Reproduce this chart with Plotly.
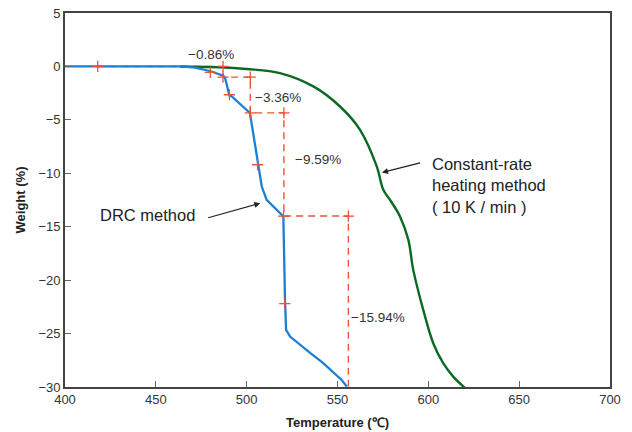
import plotly.graph_objects as go

# DRC method curve (temperature °C, weight %)
drc_T = [400, 463.3, 471.6, 480.2, 487.1, 488.1, 490.4, 491.8, 501.8, 506.1, 508.3, 511.0,
         515.6, 520.2, 521.1, 521.7, 523.9, 529.4, 534.9, 542.0, 547.5, 552.3, 555.1]
drc_W = [0, 0, -0.12, -0.45, -0.87, -1.09, -2.65, -2.81, -4.36, -9.2, -11.24, -12.48,
         -13.26, -14.04, -21.84, -24.65, -25.28, -26.06, -26.81, -27.74, -28.56, -29.34, -29.96]

# Constant-rate heating curve
crh_T = [463.3, 485.3, 500, 518.3, 536.7, 551.4, 562.4, 571.6, 575.2, 578.9, 584.4, 589.0,
         591.7, 597.2, 602.7, 608.2, 613.7, 620.2]
crh_W = [0, -0.07, -0.24, -0.62, -1.87, -3.75, -5.93, -9.36, -11.55, -12.48, -14.04, -16.23,
         -19.04, -22.78, -25.9, -27.77, -29.03, -30.1]

# Step (dashed) construction
step_T = [418, 487, 487, 502, 502, 520.5, 520.5, 556, 556]
step_W = [0, 0, -1.0, -1.0, -4.35, -4.35, -14.0, -14.0, -30]

# Cross marks
mark_T = [418, 480, 487, 487, 502, 490.5, 502, 520.5, 506, 520.3, 556, 521]
mark_W = [0, -0.55, 0, -1.0, -1.0, -2.65, -4.35, -4.35, -9.2, -14.0, -14.0, -22.2]

# Step labels
step_labels = ["−0.86%", "−3.36%", "−9.59%", "−15.94%"]
label_T = [480.4, 517.0, 539.2, 572.3]
label_W = [1.1, -2.95, -8.75, -23.5]

red = "#e8553a"
blue = "#1b7fd2"
green = "#0b6a22"
font = "Liberation Sans, Arial, sans-serif"

fig = go.Figure()
fig.add_trace(go.Scatter(x=step_T, y=step_W, mode="lines",
                         line=dict(color=red, width=1.4, dash="7px,5px"), hoverinfo="skip"))
fig.add_trace(go.Scatter(x=crh_T, y=crh_W, mode="lines", line=dict(color=green, width=2.4, shape="spline")))
fig.add_trace(go.Scatter(x=drc_T, y=drc_W, mode="lines", line=dict(color=blue, width=2.3)))
fig.add_trace(go.Scatter(x=mark_T, y=mark_W, mode="markers",
                         marker=dict(symbol="cross-thin", size=8, line=dict(color=red, width=1.3))))

for t, x, y in zip(step_labels, label_T, label_W):
    fig.add_annotation(x=x, y=y, text=t, showarrow=False, font=dict(size=13.5, color="#333", family=font))

fig.add_annotation(x=445.5, y=-13.9, text="DRC method", showarrow=False,
                   font=dict(size=16.5, color="#222", family=font))
fig.add_annotation(x=507.5, y=-12.8, ax=478, ay=-14.2, axref="x", ayref="y", text="",
                   showarrow=True, arrowhead=2, arrowsize=1, arrowwidth=1.2, arrowcolor="#222")
fig.add_annotation(x=600.9, y=-11.1, xanchor="left", align="left",
                   text="Constant-rate<br>heating method<br>( 10 K / min )", showarrow=False,
                   font=dict(size=16.5, color="#222", family=font))
fig.add_annotation(x=574.5, y=-9.93, ax=596.3, ay=-8.99, axref="x", ayref="y", text="",
                   showarrow=True, arrowhead=2, arrowsize=1, arrowwidth=1.2, arrowcolor="#222")

axis_common = dict(showline=True, linecolor="#444", linewidth=1.6, mirror=True, ticks="inside",
                   ticklen=6, tickwidth=1.2, tickcolor="#666", showgrid=False, zeroline=False,
                   automargin=False, tickfont=dict(size=13, color="#333", family=font))
fig.update_xaxes(range=[400, 700], dtick=50, title=dict(text="<b>Temperature (℃)</b>", standoff=11,
                 font=dict(size=13, color="#222", family=font)), **axis_common)
fig.update_yaxes(range=[-30, 5], dtick=5, title=dict(text="<b>Weight (%)</b>", standoff=10,
                 font=dict(size=13, color="#222", family=font)), **axis_common)

fig.update_layout(width=632, height=432, margin=dict(l=65, r=22, t=13, b=45),
                  paper_bgcolor="white", plot_bgcolor="white", showlegend=False,
                  font=dict(family=font))
fig.write_html("out.html", config={"displayModeBar": False},
               post_script="document.body.style.margin='0';document.body.style.overflow='hidden';")
